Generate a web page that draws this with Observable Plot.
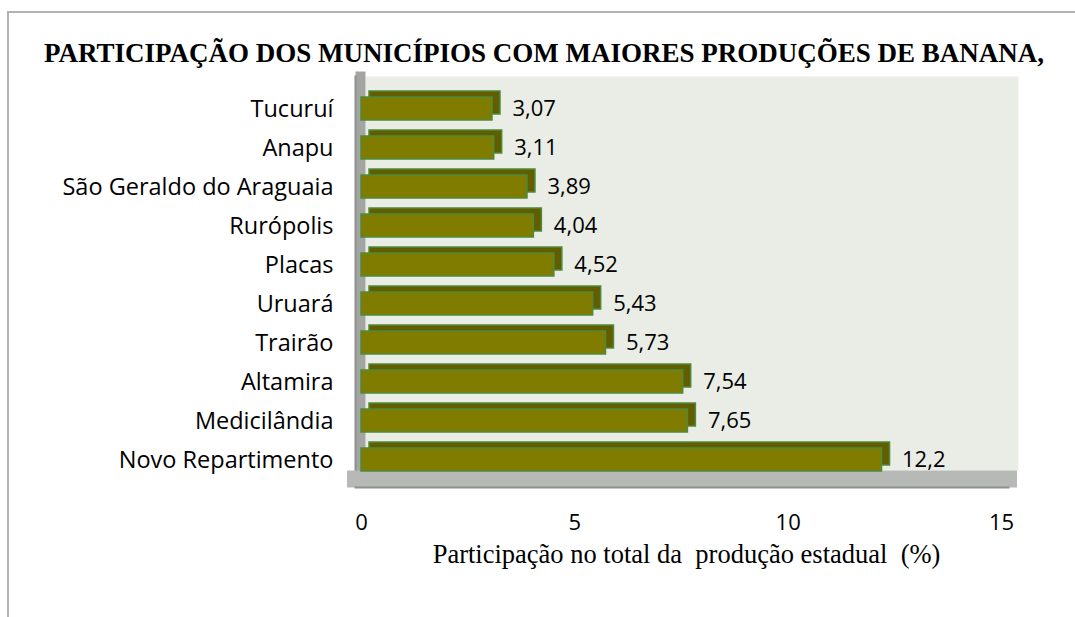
<!DOCTYPE html>
<html>
<head>
<meta charset="utf-8">
<script src="https://cdn.jsdelivr.net/npm/d3@7"></script>
<script src="https://cdn.jsdelivr.net/npm/@observablehq/plot@0.6"></script>
<style>
  html, body { margin: 0; padding: 0; background: #ffffff; overflow: hidden; }
  #wrap { position: relative; width: 1075px; height: 617px; }
  #border { position: absolute; left: 7px; top: 11px; width: 1100px; height: 700px;
            border-top: 2px solid #b3b3b3; border-left: 2px solid #b3b3b3; box-sizing: border-box; }
  #title { position: absolute; left: 0; top: 38px; width: 1088px; text-align: center;
           font-family: "Liberation Serif", "Times New Roman", serif; font-weight: bold;
           font-size: 27px; color: #000; white-space: nowrap; }
  #chart { position: absolute; left: 0; top: 0; }
  svg text { white-space: pre; }
</style>
</head>
<body>
<div id="wrap">
  <div id="border"></div>
  <div id="title">PARTICIPAÇÃO DOS MUNICÍPIOS COM MAIORES PRODUÇÕES DE BANANA,</div>
  <div id="chart"></div>
</div>
<script>
const categorias = ["Tucuruí", "Anapu", "São Geraldo do Araguaia", "Rurópolis", "Placas",
                    "Uruará", "Trairão", "Altamira", "Medicilândia", "Novo Repartimento"];
const valores = [3.07, 3.11, 3.89, 4.04, 4.52, 5.43, 5.73, 7.54, 7.65, 12.2];
const ticksX = [0, 5, 10, 15];
const rotuloX = "Participação no total da  produção estadual  (%)";

const dados = categorias.map((c, i) => ({municipio: c, valor: valores[i]}));
const sans = "'Open Sans', 'Noto Sans', sans-serif";
const serif = "'Liberation Serif', 'Times New Roman', serif";

const chart = Plot.plot({
  width: 1075,
  height: 617,
  marginLeft: 365,
  marginRight: 57,
  marginTop: 76,
  marginBottom: 147,
  style: {background: "transparent", fontFamily: sans, color: "#000"},
  x: {domain: [0, 15], range: [361, 1001]},
  y: {domain: categorias, range: [85, 483], paddingInner: 0.4, paddingOuter: 0.2},
  marks: [
    Plot.frame({fill: "#e9ede6", stroke: null}),
    Plot.frame({anchor: "left", stroke: "#a3a5a3", strokeWidth: 10, dx: -5}),
    Plot.frame({anchor: "left", stroke: "#8e908e", strokeWidth: 2, dx: -10}),
    Plot.frame({anchor: "bottom", stroke: "#b6b9b5", strokeWidth: 17, dy: 8.5, dx: -10}),
    Plot.frame({anchor: "bottom", stroke: "#8e908e", strokeWidth: 2, dy: 17, dx: -10}),
    Plot.barX(dados, {x: "valor", y: "municipio", fill: "#625e00", stroke: "#4f8a3b", strokeWidth: 1.5, dx: 8, dy: -6}),
    Plot.barX(dados, {x: "valor", y: "municipio", fill: "#807c00", stroke: "#4f8a3b", strokeWidth: 1.5}),
    Plot.text(dados, {x: "valor", y: "municipio", text: d => String(d.valor).replace(".", ","),
                      dx: 20, textAnchor: "start", fontSize: 22, fill: "#000"}),
    Plot.axisY({tickSize: 0, tickPadding: 32, fontSize: 23.5, label: null, fill: "#000"}),
    Plot.axisX({ticks: ticksX, tickSize: 0, tickPadding: 44, fontSize: 22, label: null, fill: "#000"}),
    Plot.text([rotuloX], {frameAnchor: "bottom", dy: 92, dx: -5.5, fontFamily: serif, fontSize: 26.5, fill: "#000"})
  ]
});
document.getElementById("chart").appendChild(chart);
</script>
</body>
</html>
